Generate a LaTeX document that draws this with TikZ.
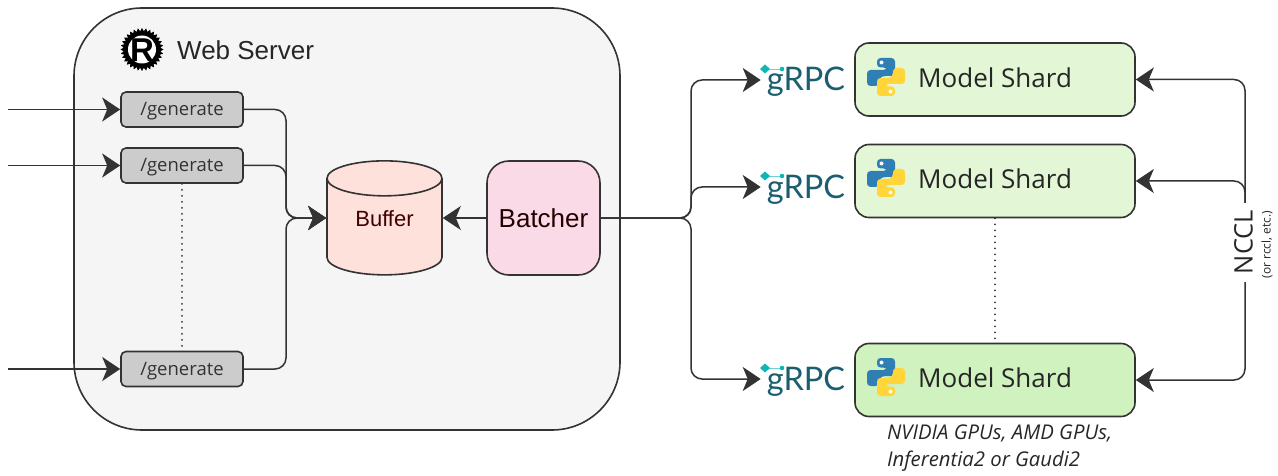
\documentclass[tikz,border=0pt]{standalone}
\usepackage{fontspec}
\setmainfont{Liberation Sans}
\newfontfamily\opensans{Open Sans}
\newfontfamily\latofont{Lato}
\usetikzlibrary{arrows.meta, shapes.geometric}

\definecolor{linedark}{HTML}{333333}
\definecolor{serverfill}{HTML}{F5F5F5}
\definecolor{routefill}{HTML}{CCCCCC}
\definecolor{bufferfill}{HTML}{FFE1DC}
\definecolor{batcherfill}{HTML}{FADAE6}
\definecolor{shardfill}{HTML}{E3F6D6}
\definecolor{shardfilldeep}{HTML}{CFF2BF}
\definecolor{grpcteal}{HTML}{1A5F70}
\definecolor{grpcdot}{HTML}{10B5B5}
\definecolor{pyblue}{HTML}{2F7FB5}
\definecolor{pyyellow}{HTML}{FFD53A}

\tikzset{
    pythonhalf/.pic={
        \path[fill=#1, rounded corners=3.5pt]
            (-9,-19) -- (9,-19) -- (9,-1) -- (-3,-1) -- (-7,1) -- (-7,9) -- (-19,9)
            -- (-19,-7) -- (1,-7) -- (1,-9.5) -- (-9,-9.5) -- cycle;
        \fill[white] (-4.5,-14.5) circle (2);
    },
    pythonlogo/.pic={
        \pic {pythonhalf=pyblue};
        \pic[rotate=180] {pythonhalf=pyyellow};
    },
    grpclogo/.pic={
        \draw[grpcdot!60, line width=0.7pt] (0,0) -- (17,0);
        \fill[grpcdot] (-5,0) -- (0,-4.5) -- (5,0) -- (0,4.5) -- cycle;
        \fill[grpcdot] (17,0) circle (2.3);
    },
    rustlogo/.pic={
        \foreach \ang in {0,11.25,...,359} {
            \fill[black, rotate=\ang] (-2,-18) -- (0,-21.5) -- (2,-18) -- cycle;
        }
        \fill[black] (0,0) circle (18.5);
        \fill[white] (0,0) circle (14);
        \node[font=\fontsize{33}{33}\selectfont\bfseries, inner sep=0pt] (rustletter) at (0,0.5) {R};
    }
}

\begin{document}
\begin{tikzpicture}[
    x=1pt, y=-1pt,
    boxline/.style={draw=linedark, line width=1.6pt},
    server/.style={boxline, fill=serverfill, rounded corners=68pt, minimum width=546pt, minimum height=422pt},
    route/.style={boxline, fill=routefill, rounded corners=5pt, minimum width=122pt, minimum height=35pt,
        inner sep=0pt, text height=17pt, text depth=4pt, font=\opensans\fontsize{18.5}{20}\selectfont, text=linedark},
    store/.style={boxline, fill=bufferfill, shape=cylinder, shape border rotate=90, aspect=0.6,
        minimum width=115pt, minimum height=114pt, inner sep=0pt, text height=16pt, text depth=18pt,
        font=\fontsize{22}{24}\selectfont, text=black!75!red},
    batcher/.style={boxline, fill=batcherfill, rounded corners=22pt, minimum width=113pt, minimum height=114pt,
        inner sep=0pt, font=\fontsize{26}{28}\selectfont, text=black!85!red},
    shard/.style={boxline, fill=shardfill, rounded corners=14pt, minimum width=280pt, minimum height=73pt, inner sep=0pt},
    shardlabel/.style={anchor=west, inner sep=0pt, font=\opensans\fontsize{26}{28}\selectfont, text=black!85},
    grpc/.style={inner xsep=6pt, inner ysep=0pt, text height=22pt, text depth=0pt,
        font=\latofont\fontsize{32.5}{32}\selectfont, text=grpcteal},
    flow/.style={draw=linedark, line width=1.5pt, rounded corners=11pt,
        -{Stealth[length=18pt, width=24pt, inset=5pt]}},
    gap/.style={draw=linedark, line width=2pt, line cap=round, dash pattern=on 0pt off 6pt}
]
\useasboundingbox (0,0) rectangle (1278,476);

%%%%%%%%%%%%%%%%%%%%%
% Web server
%%%%%%%%%%%%%%%%%%%%%
\node[server] (server) at (347,219) {};
\pic at (142,49.5) {rustlogo};
\node[anchor=west, inner sep=0pt, font=\fontsize{26}{28}\selectfont, text=black!85] (servertitle) at (177,50) {Web Server};

\node[route] (generateA) at (182,109.5) {/generate};
\node[route] (generateB) at (182,165.5) {/generate};
\node[route] (generateC) at (182,369) {/generate};
\node[store] (buffer) at (384.5,227) {Buffer};
\node[batcher] (batcher) at (543.5,218) {Batcher};

% Incoming requests
\coordinate (inA) at (8,109.5);
\coordinate (inB) at (8,165.5);
\coordinate (inC) at (8,369);
\draw[flow] (inA) -- (generateA);
\draw[flow] (inB) -- (generateB);
\draw[flow] (inC) -- (generateC);
\draw[gap] (generateB) -- (generateC);

% Into the buffer
\coordinate (busLeft) at (286,218);
\coordinate (bufferIn) at (buffer.west |- busLeft);
\coordinate (bufferOut) at (buffer.east |- busLeft);
\draw[flow] (generateA.east) -| (busLeft) -- (bufferIn);
\draw[flow] (generateB.east) -| (busLeft) -- (bufferIn);
\draw[flow] (generateC.east) -| (busLeft) -- (bufferIn);
\draw[flow] (batcher.west) -- (bufferOut);

%%%%%%%%%%%%%%%%%%%%%
% Model shards
%%%%%%%%%%%%%%%%%%%%%
\node[shard] (shardA) at (995,79.5) {};
\node[shard] (shardB) at (995,181) {};
\node[shard, fill=shardfilldeep] (shardC) at (995,380) {};
\node[shardlabel] (labelA) at (918,78) {Model Shard};
\node[shardlabel] (labelB) at (918,179) {Model Shard};
\node[shardlabel] (labelC) at (918,378) {Model Shard};
\pic at (886,77) {pythonlogo};
\pic at (886,178) {pythonlogo};
\pic at (886,377) {pythonlogo};
\draw[gap] (shardB) -- (shardC);

\node[grpc] (grpcA) at (806,80) {gRPC};
\node[grpc] (grpcB) at (806,187) {gRPC};
\node[grpc] (grpcC) at (806,379) {gRPC};
\pic at (765,69) {grpclogo};
\pic at (765,176) {grpclogo};
\pic at (765,368) {grpclogo};

% Batcher out to the shards
\coordinate (busRight) at (691,218);
\draw[flow] (batcher.east) -- (busRight) |- (grpcA.west);
\draw[flow] (batcher.east) -- (busRight) |- (grpcB.west);
\draw[flow] (batcher.east) -- (busRight) |- (grpcC.west);

% Shard to shard link
\node[rotate=90, minimum width=79pt, inner xsep=0pt, inner ysep=2pt, font=\opensans\fontsize{25.5}{27}\selectfont, text=black!85] (nccl) at (1243.5,242) {NCCL};
\coordinate (ncclTop) at (1245,203);
\coordinate (ncclBottom) at (1245,282);
\node[rotate=90, inner sep=0pt, font=\opensans\fontsize{12}{14}\selectfont, text=black!85] (ncclnote) at (1267,244.5) {(or rccl, etc.)};
\draw[flow] (ncclTop) |- (shardA.east);
\draw[flow] (ncclTop) |- (shardB.east);
\draw[flow] (ncclBottom) |- (shardC.east);

\node[anchor=north west, inner sep=0pt, align=left, font=\opensans\itshape\fontsize{20.3}{27}\selectfont, text=black!85] (hardware) at (887,425) {NVIDIA GPUs, AMD GPUs,\\Inferentia2 or Gaudi2};

\end{tikzpicture}
\end{document}
